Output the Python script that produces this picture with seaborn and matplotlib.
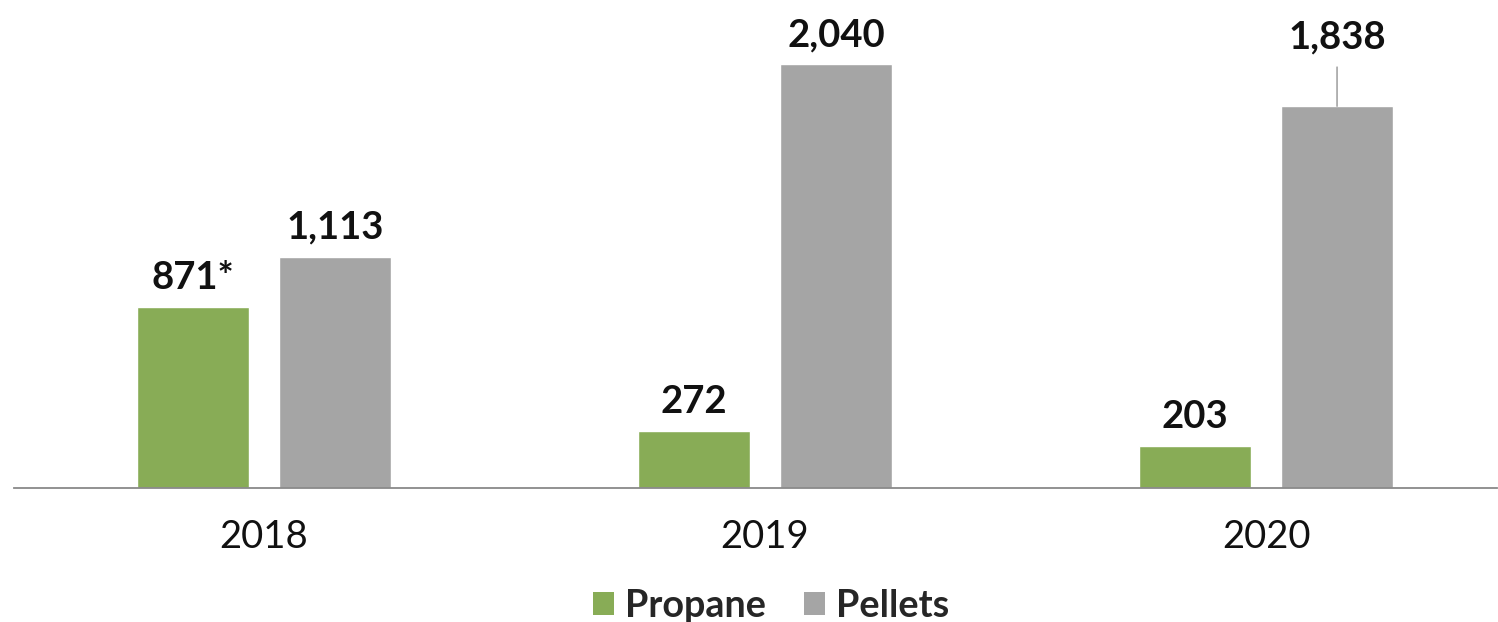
import matplotlib
matplotlib.use("Agg")
import matplotlib.pyplot as plt
import seaborn as sns
import pandas as pd
from matplotlib.patches import Patch

years = ["2018", "2019", "2020"]
propane = [871, 272, 203]
pellets = [1113, 2040, 1838]
propane_labels = ["871*", "272", "203"]
pellets_labels = ["1,113", "2,040", "1,838"]
series = ["Propane", "Pellets"]
colors = ["#88AC56", "#A5A5A5"]

df = pd.DataFrame({
    "year": years * 2,
    "value": propane + pellets,
    "series": [series[0]] * 3 + [series[1]] * 3,
})

sns.set_theme(style="white")
plt.rcParams["font.family"] = ["Lato", "DejaVu Sans"]

fig = plt.figure(figsize=(14.98, 6.22), dpi=100)
ax = fig.add_axes([14 / 1498, 134 / 622, 1483 / 1498, 488 / 622])

sns.barplot(data=df, x="year", y="value", hue="series", palette=colors,
            width=0.567, gap=0.211, ax=ax, legend=False, saturation=1)

ax.set_xlim(-0.499, 2.461)
ax.set_ylim(0, 2349)
for s in ["top", "right", "left"]:
    ax.spines[s].set_visible(False)
ax.spines["bottom"].set_color("#898989")
ax.spines["bottom"].set_linewidth(1.3)
ax.set_yticks([])
ax.set_xlabel("")
ax.set_ylabel("")
ax.tick_params(axis="x", length=0, pad=22, labelsize=27.5, labelcolor="#111111")

all_labels = [propane_labels, pellets_labels]
for cont, labs in zip(ax.containers, all_labels):
    for bar, lab in zip(cont.patches, labs):
        xc = bar.get_x() + bar.get_width() / 2
        h = bar.get_height()
        if lab == "1,838":
            ax.annotate(lab, xy=(xc, h), xytext=(0, 52), textcoords="offset pixels",
                        ha="center", va="bottom", fontsize=27.5, fontweight="bold",
                        color="#111111",
                        arrowprops=dict(arrowstyle="-", color="#A5A5A5", lw=1.2,
                                        shrinkA=7, shrinkB=0))
        else:
            ax.annotate(lab, xy=(xc, h), xytext=(0, 12), textcoords="offset pixels",
                        ha="center", va="bottom", fontsize=27.5, fontweight="bold",
                        color="#111111")

handles = [Patch(facecolor=c, edgecolor="none") for c in colors]
fig.legend(handles, series, loc="lower center", bbox_to_anchor=(0.515, -0.056), ncol=2,
           frameon=False, prop={"size": 27.2, "weight": "bold"},
           handlelength=0.55, handleheight=0.55, handletextpad=0.3, columnspacing=1.0)

fig.savefig("out.png", dpi=100)
